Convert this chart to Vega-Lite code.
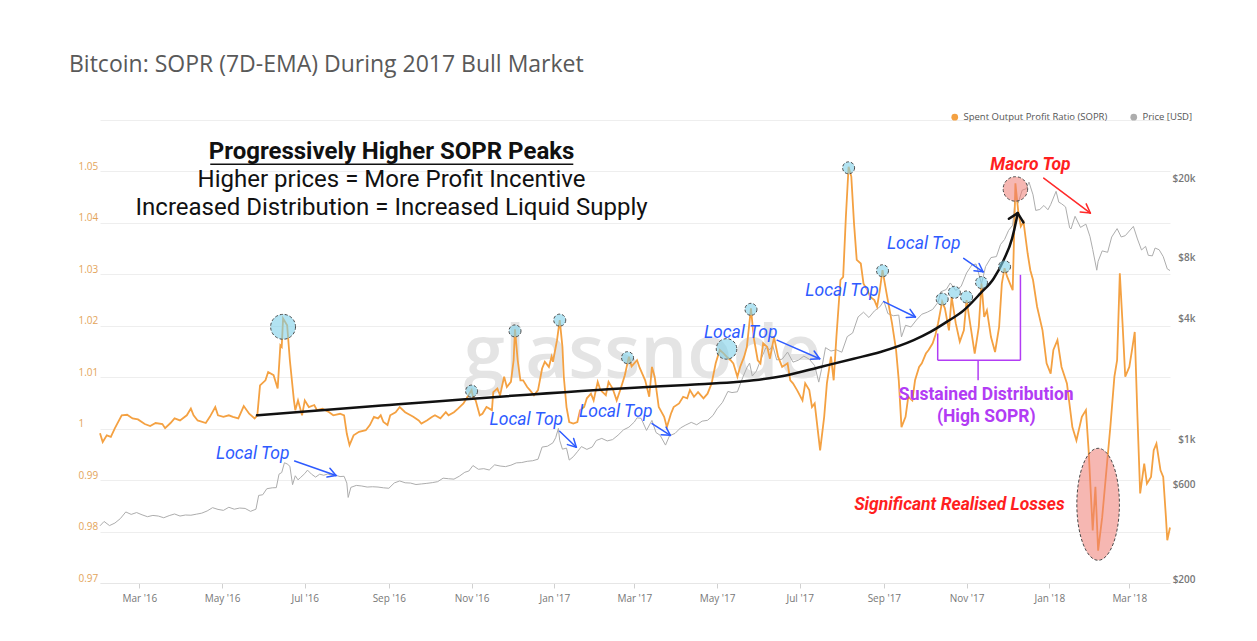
{
  "$schema": "https://vega.github.io/schema/vega-lite/v6.json",
  "width": 1070,
  "height": 463,
  "autosize": {"type": "none"},
  "padding": {"left": 100, "top": 120, "right": 87, "bottom": 58},
  "background": "#ffffff",
  "config": {"view": {"stroke": null}, "font": "Open Sans"},
  "title": {"text": "Bitcoin: SOPR (7D-EMA) During 2017 Bull Market", "anchor": "start", "frame": "group", "dx": -31, "offset": 35, "fontSize": 23, "font": "Open Sans", "fontWeight": "normal", "color": "#595959"},
  "datasets": {
    "sopr": [
      {"date":"2016-02-01","sopr":0.9991},{"date":"2016-02-03","sopr":0.9974},{"date":"2016-02-06","sopr":0.9987},{"date":"2016-02-09","sopr":0.9984},{"date":"2016-02-12","sopr":1.0001},{"date":"2016-02-17","sopr":1.0026},{"date":"2016-02-21","sopr":1.0027},{"date":"2016-02-25","sopr":1.002},{"date":"2016-02-29","sopr":1.0018},{"date":"2016-03-05","sopr":1.0009},{"date":"2016-03-09","sopr":1.0005},{"date":"2016-03-13","sopr":1.0011},{"date":"2016-03-18","sopr":1.0009},{"date":"2016-03-20","sopr":1.0001},{"date":"2016-03-24","sopr":1.0011},{"date":"2016-03-27","sopr":1.002},{"date":"2016-03-31","sopr":1.0016},
      {"date":"2016-04-05","sopr":1.0026},{"date":"2016-04-08","sopr":1.0039},{"date":"2016-04-10","sopr":1.0026},{"date":"2016-04-13","sopr":1.0016},{"date":"2016-04-19","sopr":1.0011},{"date":"2016-04-22","sopr":1.0023},{"date":"2016-04-26","sopr":1.0042},{"date":"2016-04-28","sopr":1.0026},{"date":"2016-05-02","sopr":1.0023},{"date":"2016-05-06","sopr":1.0026},{"date":"2016-05-09","sopr":1.0023},{"date":"2016-05-13","sopr":1.002},{"date":"2016-05-17","sopr":1.0044},{"date":"2016-05-21","sopr":1.0029},{"date":"2016-05-25","sopr":1.002},{"date":"2016-05-27","sopr":1.0026},{"date":"2016-05-29","sopr":1.0084},
      {"date":"2016-06-02","sopr":1.0094},{"date":"2016-06-04","sopr":1.011},{"date":"2016-06-08","sopr":1.0104},{"date":"2016-06-11","sopr":1.0078},{"date":"2016-06-13","sopr":1.0162},{"date":"2016-06-14","sopr":1.0159},{"date":"2016-06-15","sopr":1.0214},{"date":"2016-06-18","sopr":1.0201},{"date":"2016-06-20","sopr":1.0133},{"date":"2016-06-23","sopr":1.0055},{"date":"2016-06-24","sopr":1.0036},{"date":"2016-06-26","sopr":1.0055},{"date":"2016-06-29","sopr":1.0026},
      {"date":"2016-07-01","sopr":1.0055},{"date":"2016-07-04","sopr":1.0042},{"date":"2016-07-08","sopr":1.0046},{"date":"2016-07-10","sopr":1.0036},{"date":"2016-07-14","sopr":1.0039},{"date":"2016-07-19","sopr":1.0032},{"date":"2016-07-22","sopr":1.0026},{"date":"2016-07-27","sopr":1.0029},{"date":"2016-07-30","sopr":1.0026},
      {"date":"2016-08-01","sopr":0.999},{"date":"2016-08-03","sopr":0.9968},{"date":"2016-08-06","sopr":0.9987},{"date":"2016-08-10","sopr":0.9994},{"date":"2016-08-15","sopr":0.9997},{"date":"2016-08-18","sopr":1.0007},{"date":"2016-08-21","sopr":1.0023},{"date":"2016-08-24","sopr":1.002},{"date":"2016-08-26","sopr":1.0026},{"date":"2016-08-28","sopr":1.0013},{"date":"2016-08-31","sopr":1.0007},
      {"date":"2016-09-02","sopr":1.0026},{"date":"2016-09-06","sopr":1.0032},{"date":"2016-09-09","sopr":1.0042},{"date":"2016-09-13","sopr":1.0032},{"date":"2016-09-17","sopr":1.0026},{"date":"2016-09-19","sopr":1.0023},{"date":"2016-09-23","sopr":1.0016},{"date":"2016-09-25","sopr":1.001},{"date":"2016-09-29","sopr":1.0016},
      {"date":"2016-10-03","sopr":1.0023},{"date":"2016-10-05","sopr":1.0026},{"date":"2016-10-09","sopr":1.002},{"date":"2016-10-13","sopr":1.0032},{"date":"2016-10-15","sopr":1.0026},{"date":"2016-10-19","sopr":1.0032},{"date":"2016-10-22","sopr":1.0039},{"date":"2016-10-26","sopr":1.0049},{"date":"2016-10-29","sopr":1.0062},
      {"date":"2016-11-01","sopr":1.0075},{"date":"2016-11-02","sopr":1.0062},{"date":"2016-11-04","sopr":1.0055},{"date":"2016-11-07","sopr":1.0026},{"date":"2016-11-09","sopr":1.0029},{"date":"2016-11-12","sopr":1.0042},{"date":"2016-11-16","sopr":1.0036},{"date":"2016-11-17","sopr":1.0071},{"date":"2016-11-20","sopr":1.0078},{"date":"2016-11-22","sopr":1.0065},{"date":"2016-11-25","sopr":1.0101},{"date":"2016-11-27","sopr":1.0081},{"date":"2016-11-30","sopr":1.0091},
      {"date":"2016-12-02","sopr":1.0133},{"date":"2016-12-03","sopr":1.0193},{"date":"2016-12-05","sopr":1.0133},{"date":"2016-12-07","sopr":1.0094},{"date":"2016-12-09","sopr":1.0094},{"date":"2016-12-12","sopr":1.0081},{"date":"2016-12-14","sopr":1.0075},{"date":"2016-12-17","sopr":1.0065},{"date":"2016-12-20","sopr":1.0075},{"date":"2016-12-23","sopr":1.0117},{"date":"2016-12-25","sopr":1.013},{"date":"2016-12-28","sopr":1.012},{"date":"2016-12-30","sopr":1.014},{"date":"2016-12-31","sopr":1.013},
      {"date":"2017-01-03","sopr":1.0172},{"date":"2017-01-05","sopr":1.0211},{"date":"2017-01-07","sopr":1.0159},{"date":"2017-01-08","sopr":1.0101},{"date":"2017-01-10","sopr":1.0042},{"date":"2017-01-12","sopr":1.0013},{"date":"2017-01-15","sopr":1.001},{"date":"2017-01-18","sopr":1.0013},{"date":"2017-01-20","sopr":1.0036},{"date":"2017-01-23","sopr":1.0042},{"date":"2017-01-25","sopr":1.0059},{"date":"2017-01-28","sopr":1.0068},{"date":"2017-01-30","sopr":1.0055},
      {"date":"2017-02-02","sopr":1.0091},{"date":"2017-02-04","sopr":1.0075},{"date":"2017-02-08","sopr":1.0065},{"date":"2017-02-10","sopr":1.0091},{"date":"2017-02-13","sopr":1.0078},{"date":"2017-02-16","sopr":1.0055},{"date":"2017-02-19","sopr":1.0078},{"date":"2017-02-22","sopr":1.0104},{"date":"2017-02-25","sopr":1.014},{"date":"2017-02-27","sopr":1.0121},
      {"date":"2017-03-03","sopr":1.0133},{"date":"2017-03-05","sopr":1.0118},{"date":"2017-03-09","sopr":1.0094},{"date":"2017-03-12","sopr":1.0062},{"date":"2017-03-14","sopr":1.012},{"date":"2017-03-16","sopr":1.0101},{"date":"2017-03-19","sopr":1.0042},{"date":"2017-03-23","sopr":1.0023},{"date":"2017-03-25","sopr":1.0003},{"date":"2017-03-28","sopr":1.0029},{"date":"2017-03-30","sopr":1.0042},
      {"date":"2017-04-03","sopr":1.0049},{"date":"2017-04-06","sopr":1.0062},{"date":"2017-04-09","sopr":1.0059},{"date":"2017-04-11","sopr":1.0075},{"date":"2017-04-14","sopr":1.0062},{"date":"2017-04-17","sopr":1.0071},{"date":"2017-04-21","sopr":1.0059},{"date":"2017-04-24","sopr":1.0068},{"date":"2017-04-27","sopr":1.0088},{"date":"2017-04-30","sopr":1.0127},
      {"date":"2017-05-03","sopr":1.0153},{"date":"2017-05-06","sopr":1.0146},{"date":"2017-05-08","sopr":1.014},{"date":"2017-05-11","sopr":1.0133},{"date":"2017-05-13","sopr":1.0127},{"date":"2017-05-16","sopr":1.0101},{"date":"2017-05-18","sopr":1.012},{"date":"2017-05-21","sopr":1.014},{"date":"2017-05-23","sopr":1.0159},{"date":"2017-05-26","sopr":1.0234},{"date":"2017-05-28","sopr":1.0178},{"date":"2017-05-31","sopr":1.0133},
      {"date":"2017-06-02","sopr":1.0127},{"date":"2017-06-04","sopr":1.0166},{"date":"2017-06-07","sopr":1.0159},{"date":"2017-06-09","sopr":1.0136},{"date":"2017-06-12","sopr":1.0178},{"date":"2017-06-15","sopr":1.014},{"date":"2017-06-18","sopr":1.012},{"date":"2017-06-22","sopr":1.0127},{"date":"2017-06-24","sopr":1.0094},{"date":"2017-06-26","sopr":1.0088},{"date":"2017-06-29","sopr":1.0075},
      {"date":"2017-07-03","sopr":1.0055},{"date":"2017-07-05","sopr":1.0088},{"date":"2017-07-08","sopr":1.0075},{"date":"2017-07-10","sopr":1.0042},{"date":"2017-07-12","sopr":1.0049},{"date":"2017-07-16","sopr":0.9958},{"date":"2017-07-19","sopr":1.0023},{"date":"2017-07-21","sopr":1.0088},{"date":"2017-07-24","sopr":1.014},{"date":"2017-07-26","sopr":1.0094},{"date":"2017-07-28","sopr":1.0178},{"date":"2017-07-31","sopr":1.0289},
      {"date":"2017-08-02","sopr":1.0295},{"date":"2017-08-04","sopr":1.0412},{"date":"2017-08-06","sopr":1.0509},{"date":"2017-08-08","sopr":1.049},{"date":"2017-08-10","sopr":1.0399},{"date":"2017-08-12","sopr":1.0328},{"date":"2017-08-15","sopr":1.0321},{"date":"2017-08-17","sopr":1.0282},{"date":"2017-08-20","sopr":1.0269},{"date":"2017-08-22","sopr":1.0256},{"date":"2017-08-25","sopr":1.025},{"date":"2017-08-27","sopr":1.0237},{"date":"2017-08-29","sopr":1.0269},{"date":"2017-08-31","sopr":1.0308},
      {"date":"2017-09-03","sopr":1.0263},{"date":"2017-09-07","sopr":1.0205},{"date":"2017-09-10","sopr":1.0153},{"date":"2017-09-12","sopr":1.0094},{"date":"2017-09-14","sopr":1.0003},{"date":"2017-09-17","sopr":1.0023},{"date":"2017-09-19","sopr":1.0062},{"date":"2017-09-22","sopr":1.0055},{"date":"2017-09-24","sopr":1.0094},{"date":"2017-09-27","sopr":1.012},{"date":"2017-09-29","sopr":1.0127},
      {"date":"2017-10-02","sopr":1.0146},{"date":"2017-10-04","sopr":1.0153},{"date":"2017-10-07","sopr":1.0166},{"date":"2017-10-09","sopr":1.0182},{"date":"2017-10-11","sopr":1.0205},{"date":"2017-10-14","sopr":1.0247},{"date":"2017-10-16","sopr":1.0234},{"date":"2017-10-19","sopr":1.0191},{"date":"2017-10-21","sopr":1.0256},{"date":"2017-10-24","sopr":1.0205},{"date":"2017-10-27","sopr":1.0169},{"date":"2017-10-30","sopr":1.0191},
      {"date":"2017-11-01","sopr":1.025},{"date":"2017-11-04","sopr":1.0198},{"date":"2017-11-07","sopr":1.0146},{"date":"2017-11-10","sopr":1.0198},{"date":"2017-11-12","sopr":1.0282},{"date":"2017-11-14","sopr":1.0217},{"date":"2017-11-16","sopr":1.023},{"date":"2017-11-19","sopr":1.0178},{"date":"2017-11-22","sopr":1.0149},{"date":"2017-11-25","sopr":1.0198},{"date":"2017-11-27","sopr":1.0282},{"date":"2017-11-29","sopr":1.0312},
      {"date":"2017-12-01","sopr":1.0295},{"date":"2017-12-03","sopr":1.0282},{"date":"2017-12-05","sopr":1.0269},{"date":"2017-12-07","sopr":1.0477},{"date":"2017-12-09","sopr":1.0425},{"date":"2017-12-11","sopr":1.0393},{"date":"2017-12-13","sopr":1.0402},{"date":"2017-12-16","sopr":1.0341},{"date":"2017-12-18","sopr":1.0308},{"date":"2017-12-20","sopr":1.0289},{"date":"2017-12-23","sopr":1.0237},{"date":"2017-12-27","sopr":1.0191},{"date":"2017-12-30","sopr":1.0127},
      {"date":"2018-01-02","sopr":1.0107},{"date":"2018-01-04","sopr":1.0153},{"date":"2018-01-07","sopr":1.0172},{"date":"2018-01-10","sopr":1.012},{"date":"2018-01-14","sopr":1.0088},{"date":"2018-01-18","sopr":1.0003},{"date":"2018-01-21","sopr":0.9977},{"date":"2018-01-25","sopr":1.0023},{"date":"2018-01-28","sopr":1.0036},{"date":"2018-01-30","sopr":0.9958},
      {"date":"2018-02-02","sopr":0.9802},{"date":"2018-02-04","sopr":0.9887},{"date":"2018-02-06","sopr":0.9763},{"date":"2018-02-09","sopr":0.9828},{"date":"2018-02-13","sopr":0.9945},{"date":"2018-02-15","sopr":1.0003},{"date":"2018-02-18","sopr":1.0101},{"date":"2018-02-20","sopr":1.0133},{"date":"2018-02-22","sopr":1.0302},{"date":"2018-02-24","sopr":1.0205},{"date":"2018-02-26","sopr":1.0101},
      {"date":"2018-03-01","sopr":1.012},{"date":"2018-03-03","sopr":1.0153},{"date":"2018-03-05","sopr":1.0188},{"date":"2018-03-07","sopr":1.0023},{"date":"2018-03-09","sopr":0.9874},{"date":"2018-03-12","sopr":0.9932},{"date":"2018-03-14","sopr":0.9893},{"date":"2018-03-17","sopr":0.9906},{"date":"2018-03-19","sopr":0.9958},{"date":"2018-03-21","sopr":0.9971},{"date":"2018-03-24","sopr":0.9919},{"date":"2018-03-26","sopr":0.9906},{"date":"2018-03-28","sopr":0.9828},{"date":"2018-03-29","sopr":0.9783},{"date":"2018-03-31","sopr":0.9808}
    ],
    "price": [
      {"date":"2016-02-01","price":372},{"date":"2016-02-04","price":391},{"date":"2016-02-08","price":373},{"date":"2016-02-12","price":384},{"date":"2016-02-16","price":404},{"date":"2016-02-20","price":436},{"date":"2016-02-24","price":424},{"date":"2016-02-28","price":433},{"date":"2016-03-03","price":422},{"date":"2016-03-07","price":413},{"date":"2016-03-11","price":419},{"date":"2016-03-15","price":416},{"date":"2016-03-19","price":408},{"date":"2016-03-23","price":418},{"date":"2016-03-27","price":426},{"date":"2016-03-31","price":416},
      {"date":"2016-04-04","price":421},{"date":"2016-04-08","price":420},{"date":"2016-04-12","price":425},{"date":"2016-04-16","price":430},{"date":"2016-04-20","price":441},{"date":"2016-04-24","price":458},{"date":"2016-04-28","price":449},{"date":"2016-05-02","price":444},{"date":"2016-05-06","price":460},{"date":"2016-05-10","price":450},{"date":"2016-05-14","price":456},{"date":"2016-05-18","price":454},{"date":"2016-05-22","price":439},{"date":"2016-05-26","price":450},{"date":"2016-05-28","price":527},{"date":"2016-05-31","price":531},
      {"date":"2016-06-03","price":569},{"date":"2016-06-07","price":575},{"date":"2016-06-10","price":576},{"date":"2016-06-12","price":672},{"date":"2016-06-14","price":685},{"date":"2016-06-16","price":766},{"date":"2016-06-18","price":756},{"date":"2016-06-20","price":736},{"date":"2016-06-22","price":596},{"date":"2016-06-24","price":660},{"date":"2016-06-26","price":630},{"date":"2016-06-28","price":648},
      {"date":"2016-07-01","price":677},{"date":"2016-07-03","price":704},{"date":"2016-07-06","price":672},{"date":"2016-07-09","price":650},{"date":"2016-07-12","price":672},{"date":"2016-07-15","price":664},{"date":"2016-07-18","price":674},{"date":"2016-07-21","price":663},{"date":"2016-07-24","price":663},{"date":"2016-07-27","price":654},{"date":"2016-07-30","price":656},
      {"date":"2016-08-01","price":607},{"date":"2016-08-02","price":515},{"date":"2016-08-04","price":578},{"date":"2016-08-08","price":591},{"date":"2016-08-12","price":587},{"date":"2016-08-16","price":580},{"date":"2016-08-20","price":582},{"date":"2016-08-24","price":580},{"date":"2016-08-28","price":575},
      {"date":"2016-09-01","price":572},{"date":"2016-09-05","price":608},{"date":"2016-09-09","price":622},{"date":"2016-09-13","price":609},{"date":"2016-09-17","price":607},{"date":"2016-09-21","price":597},{"date":"2016-09-25","price":601},{"date":"2016-09-29","price":605},
      {"date":"2016-10-03","price":610},{"date":"2016-10-07","price":617},{"date":"2016-10-11","price":642},{"date":"2016-10-15","price":638},{"date":"2016-10-19","price":635},{"date":"2016-10-23","price":657},{"date":"2016-10-27","price":687},{"date":"2016-10-30","price":697},
      {"date":"2016-11-02","price":742},{"date":"2016-11-06","price":711},{"date":"2016-11-10","price":716},{"date":"2016-11-14","price":705},{"date":"2016-11-18","price":748},{"date":"2016-11-22","price":738},{"date":"2016-11-26","price":733},{"date":"2016-11-30","price":745},
      {"date":"2016-12-04","price":765},{"date":"2016-12-08","price":768},{"date":"2016-12-12","price":779},{"date":"2016-12-16","price":784},{"date":"2016-12-20","price":798},{"date":"2016-12-23","price":917},{"date":"2016-12-27","price":926},{"date":"2016-12-31","price":963},
      {"date":"2017-01-02","price":1021},{"date":"2017-01-04","price":1135},{"date":"2017-01-05","price":989},{"date":"2017-01-07","price":895},{"date":"2017-01-10","price":906},{"date":"2017-01-12","price":790},{"date":"2017-01-15","price":821},{"date":"2017-01-18","price":869},{"date":"2017-01-21","price":922},{"date":"2017-01-25","price":893},{"date":"2017-01-29","price":918},
      {"date":"2017-02-01","price":989},{"date":"2017-02-05","price":1013},{"date":"2017-02-09","price":984},{"date":"2017-02-13","price":999},{"date":"2017-02-17","price":1051},{"date":"2017-02-21","price":1117},{"date":"2017-02-25","price":1152},
      {"date":"2017-03-01","price":1222},{"date":"2017-03-03","price":1282},{"date":"2017-03-06","price":1275},{"date":"2017-03-10","price":1110},{"date":"2017-03-14","price":1245},{"date":"2017-03-17","price":1083},{"date":"2017-03-20","price":1050},{"date":"2017-03-24","price":938},{"date":"2017-03-27","price":1045},{"date":"2017-03-31","price":1072},
      {"date":"2017-04-04","price":1141},{"date":"2017-04-08","price":1181},{"date":"2017-04-12","price":1217},{"date":"2017-04-16","price":1184},{"date":"2017-04-20","price":1234},{"date":"2017-04-24","price":1246},{"date":"2017-04-28","price":1317},
      {"date":"2017-05-01","price":1421},{"date":"2017-05-05","price":1530},{"date":"2017-05-09","price":1734},{"date":"2017-05-12","price":1712},{"date":"2017-05-16","price":1727},{"date":"2017-05-20","price":2040},{"date":"2017-05-23","price":2276},{"date":"2017-05-25","price":2400},{"date":"2017-05-27","price":2070},{"date":"2017-05-30","price":2190},
      {"date":"2017-06-02","price":2473},{"date":"2017-06-06","price":2867},{"date":"2017-06-09","price":2800},{"date":"2017-06-11","price":2950},{"date":"2017-06-14","price":2490},{"date":"2017-06-18","price":2510},{"date":"2017-06-22","price":2723},{"date":"2017-06-26","price":2426},{"date":"2017-06-30","price":2481},
      {"date":"2017-07-04","price":2600},{"date":"2017-07-08","price":2510},{"date":"2017-07-12","price":2330},{"date":"2017-07-15","price":1930},{"date":"2017-07-17","price":2229},{"date":"2017-07-20","price":2865},{"date":"2017-07-24","price":2755},{"date":"2017-07-28","price":2795},
      {"date":"2017-08-01","price":2718},{"date":"2017-08-05","price":3250},{"date":"2017-08-09","price":3390},{"date":"2017-08-13","price":4073},{"date":"2017-08-17","price":4300},{"date":"2017-08-21","price":4046},{"date":"2017-08-25","price":4360},{"date":"2017-08-29","price":4570},
      {"date":"2017-09-01","price":4892},{"date":"2017-09-04","price":4230},{"date":"2017-09-08","price":4130},{"date":"2017-09-12","price":4160},{"date":"2017-09-14","price":3240},{"date":"2017-09-17","price":3700},{"date":"2017-09-21","price":3630},{"date":"2017-09-25","price":3930},{"date":"2017-09-29","price":4200},
      {"date":"2017-10-03","price":4300},{"date":"2017-10-07","price":4440},{"date":"2017-10-11","price":4820},{"date":"2017-10-13","price":5430},{"date":"2017-10-17","price":5575},{"date":"2017-10-20","price":6010},{"date":"2017-10-24","price":5520},{"date":"2017-10-28","price":5780},
      {"date":"2017-11-01","price":6740},{"date":"2017-11-05","price":7400},{"date":"2017-11-08","price":7460},{"date":"2017-11-12","price":5950},{"date":"2017-11-15","price":7250},{"date":"2017-11-19","price":8040},{"date":"2017-11-23","price":8130},{"date":"2017-11-26","price":9330},{"date":"2017-11-29","price":9890},
      {"date":"2017-12-02","price":10980},{"date":"2017-12-05","price":11650},{"date":"2017-12-07","price":16000},{"date":"2017-12-09","price":15000},{"date":"2017-12-12","price":17400},{"date":"2017-12-15","price":17700},{"date":"2017-12-17","price":19100},{"date":"2017-12-20","price":16500},{"date":"2017-12-22","price":13800},{"date":"2017-12-25","price":13950},{"date":"2017-12-28","price":14600},{"date":"2017-12-31","price":13900},
      {"date":"2018-01-02","price":14750},{"date":"2018-01-06","price":17170},{"date":"2018-01-08","price":15170},{"date":"2018-01-10","price":14900},{"date":"2018-01-13","price":14360},{"date":"2018-01-16","price":11300},{"date":"2018-01-17","price":11160},{"date":"2018-01-20","price":12900},{"date":"2018-01-24","price":11360},{"date":"2018-01-28","price":11790},{"date":"2018-01-31","price":10220},
      {"date":"2018-02-02","price":8830},{"date":"2018-02-05","price":6955},{"date":"2018-02-06","price":7700},{"date":"2018-02-09","price":8680},{"date":"2018-02-13","price":8540},{"date":"2018-02-16","price":10170},{"date":"2018-02-20","price":11200},{"date":"2018-02-23","price":10180},{"date":"2018-02-26","price":10330},
      {"date":"2018-03-01","price":10900},{"date":"2018-03-04","price":11490},{"date":"2018-03-07","price":9950},{"date":"2018-03-10","price":8770},{"date":"2018-03-13","price":9140},{"date":"2018-03-15","price":8250},{"date":"2018-03-18","price":8200},{"date":"2018-03-20","price":8970},{"date":"2018-03-23","price":8790},{"date":"2018-03-26","price":8130},{"date":"2018-03-29","price":7060},{"date":"2018-03-31","price":6930}
    ]
  },
  "layer": [
    {
      "data": {"values": [{"date": "2017-03-07", "sopr": 1.0098, "label": "glassnode"}]},
      "mark": {"type": "text", "font": "Open Sans", "fontSize": 74, "fontWeight": 600, "color": "#e4e4e4", "align": "center", "baseline": "alphabetic"},
      "encoding": {
        "x": {"field": "date", "type": "temporal"},
        "y": {"field": "sopr", "type": "quantitative", "scale": {"domain": [0.97, 1.06], "nice": false, "zero": false}, "axis": null},
        "text": {"field": "label"}
      }
    },
    {
      "data": {"name": "price"},
      "mark": {"type": "line", "strokeWidth": 1},
      "encoding": {
        "x": {"field": "date", "type": "temporal", "scale": {"domain": [{"year": 2016, "month": 2, "date": 1}, {"year": 2018, "month": 3, "date": 31}]},
          "axis": {"title": null, "format": "%b '%y", "tickCount": {"interval": "month", "step": 2}, "labelFontSize": 10, "labelColor": "#777777", "labelFont": "Open Sans", "tickColor": "#d0d0d0", "tickSize": 5, "domainColor": "#e6e6e6", "grid": false, "labelPadding": 5}},
        "y": {"field": "price", "type": "quantitative", "scale": {"type": "log", "domain": [193.2, 38880], "nice": false},
          "axis": {"orient": "right", "title": null, "values": [200, 600, 1000, 4000, 8000, 20000], "labelExpr": "datum.value >= 1000 ? '$' + (datum.value / 1000) + 'k' : '$' + datum.value", "grid": false, "ticks": false, "domain": false, "labelAlign": "right", "labelPadding": 25, "labelFontSize": 10, "labelColor": "#777777", "labelFontWeight": 600, "labelFont": "Open Sans"}},
        "color": {"datum": "Price [USD]"}
      }
    },
    {
      "layer": [
        {
          "data": {"name": "sopr"},
          "mark": {"type": "line", "strokeWidth": 1.8},
          "encoding": {
            "x": {"field": "date", "type": "temporal"},
            "y": {"field": "sopr", "type": "quantitative", "scale": {"domain": [0.97, 1.06], "nice": false, "zero": false},
              "axis": {"orient": "left", "title": null, "values": [0.97, 0.98, 0.99, 1, 1.01, 1.02, 1.03, 1.04, 1.05, 1.06], "labelExpr": "datum.value > 1.055 ? '' : format(datum.value, '.2~f')", "grid": true, "gridColor": "#eeeeee", "ticks": false, "domain": false, "labelAlign": "left", "labelPadding": 22, "labelOffset": -5, "labelFontSize": 10, "labelColor": "#e3a45a", "labelFont": "Open Sans"}},
            "color": {"datum": "Spent Output Profit Ratio (SOPR)",
              "scale": {"domain": ["Spent Output Profit Ratio (SOPR)", "Price [USD]"], "range": ["#f4a142", "#adadad"]},
              "legend": {"orient": "none", "legendX": 850, "legendY": -8, "direction": "horizontal", "title": null, "symbolType": "circle", "symbolSize": 45, "symbolStrokeWidth": 0, "labelFontSize": 9.5, "labelColor": "#555555", "labelFont": "Open Sans", "columnPadding": 21,
                "encode": {"symbols": {"update": {"fill": {"scale": "color", "field": "value"}, "strokeWidth": {"value": 0}}}}}}
          }
        },
        {
          "mark": {"type": "rule", "color": "#555555", "strokeWidth": 2.5},
          "encoding": {"y": {"datum": 1}}
        },
        {
          "data": {"values": [
            {"date": "2016-05-26T19:00Z", "sopr": 1.0026}, {"date": "2016-08-22T00:00Z", "sopr": 1.0044}, {"date": "2017-03-04T06:00Z", "sopr": 1.008}, {"date": "2017-04-08T21:00Z", "sopr": 1.0085}, {"date": "2017-05-28T00:00Z", "sopr": 1.0094}, {"date": "2017-06-21T15:00Z", "sopr": 1.0104}, {"date": "2017-07-16T05:00Z", "sopr": 1.012}, {"date": "2017-08-09T18:00Z", "sopr": 1.0136}, {"date": "2017-08-29T11:00Z", "sopr": 1.0149}, {"date": "2017-09-23T00:00Z", "sopr": 1.0172}, {"date": "2017-10-05T08:00Z", "sopr": 1.0188}, {"date": "2017-10-17T15:00Z", "sopr": 1.0208}, {"date": "2017-10-29T21:00Z", "sopr": 1.023}, {"date": "2017-11-11T05:00Z", "sopr": 1.0263}, {"date": "2017-11-21T00:00Z", "sopr": 1.0292}, {"date": "2017-11-28T09:00Z", "sopr": 1.0328}, {"date": "2017-12-04T14:00Z", "sopr": 1.037}, {"date": "2017-12-07T18:00Z", "sopr": 1.0406}, {"date": "2017-12-08T17:00Z", "sopr": 1.0419}
          ]},
          "mark": {"type": "line", "color": "#111111", "strokeWidth": 2.5, "interpolate": "monotone", "strokeCap": "round"},
          "encoding": {"x": {"field": "date", "type": "temporal"}, "y": {"field": "sopr", "type": "quantitative"}}
        },
        {
          "data": {"values": [
            {"date": "2017-12-02T05:00Z", "sopr": 1.0408, "date2": "2017-12-08T17:00Z", "sopr2": 1.0419},
            {"date": "2017-12-12T22:00Z", "sopr": 1.0401, "date2": "2017-12-08T17:00Z", "sopr2": 1.0419}
          ]},
          "mark": {"type": "rule", "color": "#111111", "strokeWidth": 2.5, "strokeCap": "round"},
          "encoding": {"x": {"field": "date", "type": "temporal"}, "y": {"field": "sopr", "type": "quantitative"}, "x2": {"field": "date2"}, "y2": {"field": "sopr2"}}
        },
        {
          "data": {"values": [
            {"date": "2016-06-23T12:00Z", "sopr": 0.9937, "date2": "2016-07-24T01:00Z", "sopr2": 0.9909},
            {"date": "2016-07-17T09:00Z", "sopr": 0.9906, "date2": "2016-07-24T01:00Z", "sopr2": 0.9909},
            {"date": "2016-07-19T13:00Z", "sopr": 0.9923, "date2": "2016-07-24T01:00Z", "sopr2": 0.9909},
            {"date": "2017-01-04T23:00Z", "sopr": 0.9995, "date2": "2017-01-17T06:00Z", "sopr2": 0.9964},
            {"date": "2017-01-10T16:00Z", "sopr": 0.9969, "date2": "2017-01-17T06:00Z", "sopr2": 0.9964},
            {"date": "2017-01-15T06:00Z", "sopr": 0.9981, "date2": "2017-01-17T06:00Z", "sopr2": 0.9964},
            {"date": "2017-03-14T02:00Z", "sopr": 1.001, "date2": "2017-03-27T14:00Z", "sopr2": 0.9987},
            {"date": "2017-03-20T19:00Z", "sopr": 0.9988, "date2": "2017-03-27T14:00Z", "sopr2": 0.9987},
            {"date": "2017-03-24T10:00Z", "sopr": 1.0003, "date2": "2017-03-27T14:00Z", "sopr2": 0.9987},
            {"date": "2017-06-14T06:00Z", "sopr": 1.0172, "date2": "2017-07-15T16:00Z", "sopr2": 1.0136},
            {"date": "2017-07-08T23:00Z", "sopr": 1.0135, "date2": "2017-07-15T16:00Z", "sopr2": 1.0136},
            {"date": "2017-07-11T14:00Z", "sopr": 1.0151, "date2": "2017-07-15T16:00Z", "sopr2": 1.0136},
            {"date": "2017-08-31T21:00Z", "sopr": 1.0247, "date2": "2017-09-24T06:00Z", "sopr2": 1.0217},
            {"date": "2017-09-17T12:00Z", "sopr": 1.0216, "date2": "2017-09-24T06:00Z", "sopr2": 1.0217},
            {"date": "2017-09-20T08:00Z", "sopr": 1.0232, "date2": "2017-09-24T06:00Z", "sopr2": 1.0217},
            {"date": "2017-10-29T21:00Z", "sopr": 1.0331, "date2": "2017-11-13T04:00Z", "sopr2": 1.0305},
            {"date": "2017-11-06T11:00Z", "sopr": 1.0307, "date2": "2017-11-13T04:00Z", "sopr2": 1.0305},
            {"date": "2017-11-10T05:00Z", "sopr": 1.0321, "date2": "2017-11-13T04:00Z", "sopr2": 1.0305}
          ]},
          "mark": {"type": "rule", "color": "#2e5bff", "strokeWidth": 1.5, "strokeCap": "round"},
          "encoding": {"x": {"field": "date", "type": "temporal"}, "y": {"field": "sopr", "type": "quantitative"}, "x2": {"field": "date2"}, "y2": {"field": "sopr2"}}
        },
        {
          "data": {"values": [
            {"date": "2017-12-27T21:00Z", "sopr": 1.0487, "date2": "2018-01-31T07:00Z", "sopr2": 1.0419},
            {"date": "2018-01-23T19:00Z", "sopr": 1.0421, "date2": "2018-01-31T07:00Z", "sopr2": 1.0419},
            {"date": "2018-01-28T05:00Z", "sopr": 1.0437, "date2": "2018-01-31T07:00Z", "sopr2": 1.0419}
          ]},
          "mark": {"type": "rule", "color": "#ff2a2a", "strokeWidth": 1.5, "strokeCap": "round"},
          "encoding": {"x": {"field": "date", "type": "temporal"}, "y": {"field": "sopr", "type": "quantitative"}, "x2": {"field": "date2"}, "y2": {"field": "sopr2"}}
        },
        {
          "data": {"values": [
            {"date": "2017-10-10T17:00Z", "sopr": 1.0185, "date2": "2017-10-10T17:00Z", "sopr2": 1.0133},
            {"date": "2017-10-10T17:00Z", "sopr": 1.0133, "date2": "2017-12-10T17:00Z", "sopr2": 1.0133},
            {"date": "2017-12-10T17:00Z", "sopr": 1.0299, "date2": "2017-12-10T17:00Z", "sopr2": 1.0133},
            {"date": "2017-11-09T12:00Z", "sopr": 1.0133, "date2": "2017-11-09T12:00Z", "sopr2": 1.0094}
          ]},
          "mark": {"type": "rule", "color": "#b23cf4", "strokeWidth": 1.5},
          "encoding": {"x": {"field": "date", "type": "temporal"}, "y": {"field": "sopr", "type": "quantitative"}, "x2": {"field": "date2"}, "y2": {"field": "sopr2"}}
        },
        {
          "data": {"values": [
            {"date": "2016-11-01", "sopr": 1.0073}, {"date": "2016-12-03", "sopr": 1.019}, {"date": "2017-01-05", "sopr": 1.0211}, {"date": "2017-02-24", "sopr": 1.0138}, {"date": "2017-05-26", "sopr": 1.0232}, {"date": "2017-08-06", "sopr": 1.0507}, {"date": "2017-08-31", "sopr": 1.0307}, {"date": "2017-10-14", "sopr": 1.0252}, {"date": "2017-10-23", "sopr": 1.0265}, {"date": "2017-11-01", "sopr": 1.0256}, {"date": "2017-11-12", "sopr": 1.0284}, {"date": "2017-11-29", "sopr": 1.0315}
          ]},
          "mark": {"type": "point", "shape": "circle", "size": 144, "filled": true, "fill": "#7fd0ea", "fillOpacity": 0.6, "opacity": 1, "stroke": "#4a4a4a", "strokeWidth": 1, "strokeDash": [3, 2]},
          "encoding": {"x": {"field": "date", "type": "temporal"}, "y": {"field": "sopr", "type": "quantitative"}}
        },
        {
          "data": {"values": [{"date": "2017-05-08", "sopr": 1.0155}]},
          "mark": {"type": "point", "shape": "circle", "size": 420, "filled": true, "fill": "#7fd0ea", "fillOpacity": 0.6, "opacity": 1, "stroke": "#4a4a4a", "strokeWidth": 1, "strokeDash": [3, 2]},
          "encoding": {"x": {"field": "date", "type": "temporal"}, "y": {"field": "sopr", "type": "quantitative"}}
        },
        {
          "data": {"values": [{"date": "2016-06-15", "sopr": 1.0198}]},
          "mark": {"type": "point", "shape": "circle", "size": 620, "filled": true, "fill": "#7fd0ea", "fillOpacity": 0.6, "opacity": 1, "stroke": "#4a4a4a", "strokeWidth": 1, "strokeDash": [3, 2]},
          "encoding": {"x": {"field": "date", "type": "temporal"}, "y": {"field": "sopr", "type": "quantitative"}}
        },
        {
          "data": {"values": [{"date": "2017-12-07", "sopr": 1.0466}]},
          "mark": {"type": "point", "shape": "circle", "size": 600, "filled": true, "fill": "#ee7b72", "fillOpacity": 0.55, "opacity": 1, "stroke": "#4a4a4a", "strokeWidth": 1, "strokeDash": [3, 2]},
          "encoding": {"x": {"field": "date", "type": "temporal"}, "y": {"field": "sopr", "type": "quantitative"}}
        },
        {
          "data": {"values": [{"date": "2018-02-06", "sopr": 0.9853}]},
          "mark": {"type": "point", "shape": "M-0.38,0A0.38,1,0,1,0,0.38,0A0.38,1,0,1,0,-0.38,0Z", "size": 12544, "filled": true, "fill": "#ee7b72", "fillOpacity": 0.55, "opacity": 1, "stroke": "#4a4a4a", "strokeWidth": 1, "strokeDash": [3, 2]},
          "encoding": {"x": {"field": "date", "type": "temporal"}, "y": {"field": "sopr", "type": "quantitative"}}
        },
        {
          "data": {"values": [{"date": "2016-09-03", "sopr": 1.0524, "label": "Progressively Higher SOPR Peaks"}]},
          "mark": {"type": "text", "font": "Roboto", "fontSize": 24, "fontWeight": "bold", "color": "#111111", "align": "center", "baseline": "alphabetic"},
          "encoding": {"x": {"field": "date", "type": "temporal"}, "y": {"field": "sopr", "type": "quantitative"}, "text": {"field": "label"}}
        },
        {
          "data": {"values": [{"date": "2016-04-22T07:00Z", "sopr": 1.0514, "date2": "2017-01-15T00:00Z"}]},
          "mark": {"type": "rule", "color": "#111111", "strokeWidth": 1.5},
          "encoding": {"x": {"field": "date", "type": "temporal"}, "x2": {"field": "date2"}, "y": {"field": "sopr", "type": "quantitative"}}
        },
        {
          "data": {"values": [
            {"date": "2016-09-03", "sopr": 1.0469, "label": "Higher prices = More Profit Incentive"},
            {"date": "2016-09-03", "sopr": 1.0415, "label": "Increased Distribution = Increased Liquid Supply"}
          ]},
          "mark": {"type": "text", "font": "Roboto", "fontSize": 24, "fontWeight": "normal", "color": "#111111", "align": "center", "baseline": "alphabetic"},
          "encoding": {"x": {"field": "date", "type": "temporal"}, "y": {"field": "sopr", "type": "quantitative"}, "text": {"field": "label"}}
        },
        {
          "data": {"values": [
            {"date": "2016-05-23T16:00Z", "sopr": 0.995, "label": "Local Top"},
            {"date": "2016-12-11T09:00Z", "sopr": 1.0016, "label": "Local Top"},
            {"date": "2017-02-15T09:00Z", "sopr": 1.0032, "label": "Local Top"},
            {"date": "2017-05-18T10:00Z", "sopr": 1.0186, "label": "Local Top"},
            {"date": "2017-08-01T05:00Z", "sopr": 1.0267, "label": "Local Top"},
            {"date": "2017-09-30T10:00Z", "sopr": 1.0359, "label": "Local Top"}
          ]},
          "mark": {"type": "text", "font": "Roboto", "fontSize": 17.5, "fontStyle": "italic", "color": "#2e5bff", "align": "center", "baseline": "middle"},
          "encoding": {"x": {"field": "date", "type": "temporal"}, "y": {"field": "sopr", "type": "quantitative"}, "text": {"field": "label"}}
        },
        {
          "data": {"values": [
            {"date": "2017-12-18T03:00Z", "sopr": 1.0513, "label": "Macro Top"},
            {"date": "2017-10-26T17:00Z", "sopr": 0.9851, "label": "Significant Realised Losses"}
          ]},
          "mark": {"type": "text", "font": "Roboto", "fontSize": 17.5, "fontStyle": "italic", "fontWeight": "bold", "color": "#ff1f1f", "align": "center", "baseline": "middle"},
          "encoding": {"x": {"field": "date", "type": "temporal"}, "y": {"field": "sopr", "type": "quantitative"}, "text": {"field": "label"}}
        },
        {
          "data": {"values": [
            {"date": "2017-11-15T12:00Z", "sopr": 1.0065, "label": "Sustained Distribution"},
            {"date": "2017-11-15T12:00Z", "sopr": 1.0023, "label": "(High SOPR)"}
          ]},
          "mark": {"type": "text", "font": "Roboto", "fontSize": 17.5, "fontWeight": "bold", "color": "#b23cf4", "align": "center", "baseline": "middle"},
          "encoding": {"x": {"field": "date", "type": "temporal"}, "y": {"field": "sopr", "type": "quantitative"}, "text": {"field": "label"}}
        }
      ]
    }
  ],
  "resolve": {"scale": {"y": "independent"}}
}
